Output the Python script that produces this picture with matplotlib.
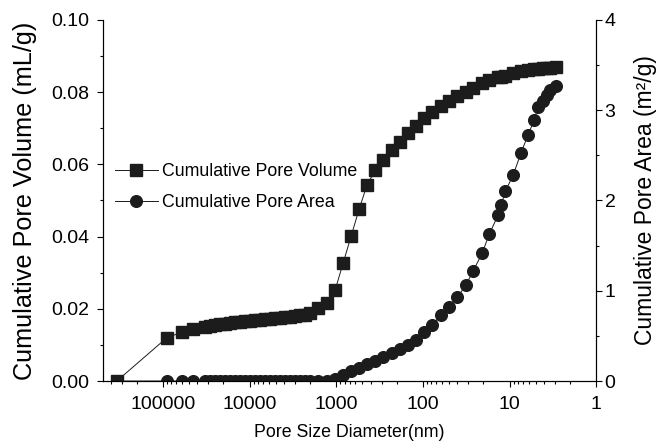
import matplotlib.pyplot as plt
from matplotlib.ticker import LogLocator, NullFormatter, FixedLocator, MultipleLocator

plt.rcParams['font.family'] = ['Liberation Sans', 'DejaVu Sans']

# pore diameter (nm)
diameter = [340000, 90000, 60400, 45100, 32700, 28700, 25100, 22000, 19200, 16800,
            14800, 12900, 11300, 9900, 8670, 7590, 6640, 5810, 5090, 4460,
            3900, 3410, 2990, 2620, 2290, 2010, 1620, 1280, 1030, 834,
            674, 546, 441, 356, 288, 227, 183, 148, 120, 96.9,
            78.3, 61.7, 49.8, 40.3, 31.7, 26.3, 20.7, 17.2, 13.5, 12.5,
            11.2, 9.1, 7.35, 6.1, 5.2, 4.68, 4.09, 3.68, 3.40, 2.95]

# cumulative pore volume (mL/g)
volume = [0.0, 0.0120, 0.0135, 0.0143, 0.0150, 0.0153, 0.0155, 0.0157, 0.0159, 0.0161,
          0.0163, 0.0164, 0.0166, 0.0167, 0.0169, 0.0170, 0.0171, 0.0173, 0.0174, 0.0175,
          0.0176, 0.0178, 0.0180, 0.0182, 0.0184, 0.0187, 0.0201, 0.0217, 0.0252, 0.0326,
          0.0401, 0.0475, 0.0543, 0.0583, 0.0613, 0.0641, 0.0663, 0.0687, 0.0706, 0.0727,
          0.0745, 0.0762, 0.0776, 0.0789, 0.0801, 0.0811, 0.0825, 0.0833, 0.0841, 0.0843,
          0.0846, 0.0853, 0.0858, 0.0862, 0.0864, 0.0865, 0.0866, 0.0867, 0.0868, 0.0869]

# cumulative pore area (m2/g)
area = [0, 0, 0, 0, 0, 0, 0, 0, 0, 0,
        0, 0, 0, 0, 0, 0, 0, 0, 0, 0,
        0, 0, 0, 0, 0, 0, 0, 0.005, 0.025, 0.065,
        0.108, 0.145, 0.187, 0.222, 0.262, 0.308, 0.354, 0.400, 0.457, 0.540,
        0.620, 0.730, 0.825, 0.925, 1.065, 1.22, 1.415, 1.625, 1.84, 1.95,
        2.10, 2.28, 2.53, 2.73, 2.89, 3.04, 3.10, 3.17, 3.22, 3.27]

xticks = [100000, 10000, 1000, 100, 10, 1]
xticklabels = ['100000', '10000', '1000', '100', '10', '1']

fig = plt.figure(figsize=(6.61, 4.42), dpi=100)
ax1 = fig.add_axes([0.156, 0.138, 0.746, 0.817])
ax2 = ax1.twinx()
ax1.set_zorder(ax2.get_zorder() + 1)
ax1.patch.set_visible(False)

c = '#1c1c1c'
l1, = ax1.plot(diameter, volume, marker='s', ms=8.4, color=c, lw=0.7,
               label='Cumulative Pore Volume')
l2, = ax2.plot(diameter, area, marker='o', ms=8.4, color=c, lw=0.7,
               label='Cumulative Pore Area')

ax1.set_xscale('log')
ax1.set_xlim(490000, 1)
ax1.set_ylim(0, 0.10)
ax2.set_ylim(0, 4)

ax1.xaxis.set_major_locator(FixedLocator(xticks))
ax1.set_xticklabels(xticklabels)
ax1.xaxis.set_minor_locator(LogLocator(base=10, subs=range(2, 10), numticks=20))
ax1.xaxis.set_minor_formatter(NullFormatter())

ax1.yaxis.set_major_locator(MultipleLocator(0.02))
ax1.yaxis.set_minor_locator(MultipleLocator(0.01))
ax1.yaxis.set_major_formatter(plt.FormatStrFormatter('%.2f'))
ax2.yaxis.set_major_locator(MultipleLocator(1))
ax2.yaxis.set_minor_locator(MultipleLocator(0.5))

for ax in (ax1, ax2):
    ax.spines['top'].set_visible(False)
    for s in ax.spines.values():
        s.set_linewidth(0.8)
    ax.tick_params(which='major', direction='out', length=4.5, width=0.8, labelsize=14)
    ax.tick_params(which='minor', direction='out', length=2.4, width=0.8)
ax1.tick_params(axis='y', which='major', pad=5.5)
ax1.tick_params(axis='x', which='major', pad=6)
ax2.tick_params(axis='y', which='major', pad=1.5)

ax1.set_xlabel('Pore Size Diameter(nm)', fontsize=12.8, labelpad=8)
ax1.set_ylabel('Cumulative Pore Volume (mL/g)', fontsize=18.2, labelpad=10)
ax2.set_ylabel('Cumulative Pore Area (m²/g)', fontsize=16.5, labelpad=13)

ax1.legend(handles=[l1, l2], loc='center left', bbox_to_anchor=(0.024, 0.537),
           frameon=False, fontsize=12.8, handlelength=2.4, handletextpad=0.25,
           labelspacing=0.82, borderpad=0, borderaxespad=0)

fig.savefig('out.png', dpi=100)
